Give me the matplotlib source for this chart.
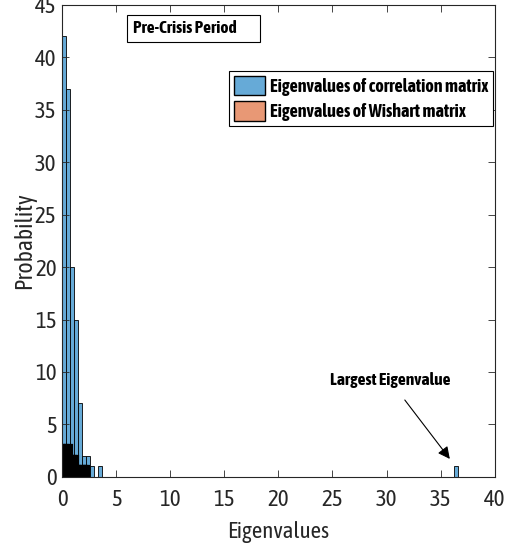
import numpy as np
import matplotlib
matplotlib.use("Agg")
import matplotlib.pyplot as plt
from matplotlib import font_manager
from matplotlib.patches import Rectangle

# -------------------------------
# Data
# -------------------------------
corr_bin_width = 0.37
# counts of the first correlation-matrix bins, starting at 0
corr_counts = [42, 37, 20, 15, 7, 2, 2, 1, 0, 1]
# the isolated largest eigenvalue bin (bin index, count)
largest_bin = 98
largest_count = 1

wishart_bin_width = 0.1
wishart_counts = [2, 3, 3, 3, 2, 3, 3, 2, 3, 2, 2, 2, 2, 1, 2,
                  1, 1, 1, 1, 1, 1, 1, 1, 0, 1]

x_ticks = [0, 5, 10, 15, 20, 25, 30, 35, 40]
y_ticks = [0, 5, 10, 15, 20, 25, 30, 35, 40, 45]

BLUE = (0 * 0.6 + 0.4, 0.447 * 0.6 + 0.4, 0.741 * 0.6 + 0.4)
ORANGE = (0.85 * 0.6 + 0.4, 0.325 * 0.6 + 0.4, 0.098 * 0.6 + 0.4)

# a narrow sans face looks closest to the original; prefer one with a bold cut
fonts = font_manager.fontManager.ttflist
is_narrow = lambda n: "Narrow" in n or "Condensed" in n
narrow = sorted({f.name for f in fonts if is_narrow(f.name)})
narrow_bold = sorted({f.name for f in fonts if is_narrow(f.name)
                      and (f.weight in ("bold", "heavy", "black")
                           or (isinstance(f.weight, int) and f.weight >= 600))})
family = (narrow_bold or narrow)[:1]
plt.rcParams["font.family"] = family + ["Liberation Sans", "DejaVu Sans"]

fig = plt.figure(figsize=(5.08, 5.45), dpi=100)
ax = fig.add_axes([0.122, 0.125, 0.852, 0.866])

# correlation matrix histogram
corr_left = np.arange(len(corr_counts)) * corr_bin_width
ax.bar(corr_left, corr_counts, width=corr_bin_width, align="edge",
       color=BLUE, edgecolor="black", linewidth=0.6,
       label="Eigenvalues of correlation matrix")
ax.bar([largest_bin * corr_bin_width], [largest_count], width=corr_bin_width,
       align="edge", color=BLUE, edgecolor="black", linewidth=0.6)

# Wishart histogram (narrow bins, edges dominate)
w_left = np.arange(len(wishart_counts)) * wishart_bin_width
ax.bar(w_left, wishart_counts, width=wishart_bin_width, align="edge",
       color=ORANGE, edgecolor="black", linewidth=1.6,
       label="Eigenvalues of Wishart matrix")

ax.set_xlim(0, 40)
ax.set_ylim(0, 45)
ax.set_xticks(x_ticks)
ax.set_yticks(y_ticks)
ax.tick_params(direction="in", top=True, right=True, labelsize=16.5,
               length=5, width=0.6, colors="#262626", pad=4)
ax.tick_params(axis="x", pad=9)
for s in ax.spines.values():
    s.set_linewidth(0.8)
    s.set_color("#262626")

ax.set_xlabel("Eigenvalues", fontsize=16.5, color="#262626", labelpad=7)
ax.set_ylabel("Probability", fontsize=17, color="#262626", labelpad=-1)

leg = ax.legend(loc="upper right", bbox_to_anchor=(0.997, 0.86),
                prop={"weight": "bold", "size": 13}, fancybox=False,
                edgecolor="black", framealpha=1, handlelength=1.7,
                handleheight=1.25, handletextpad=0.25, borderpad=0.3,
                labelspacing=0.3, borderaxespad=0)
leg.get_frame().set_linewidth(0.8)
for h in leg.legend_handles:
    h.set_linewidth(1.0)

# text box in the top left, as a plain frame with the text inside
ax.add_patch(Rectangle((0.150, 0.922), 0.307, 0.057, transform=ax.transAxes,
                       facecolor="white", edgecolor="black", linewidth=0.8,
                       zorder=4))
ax.text(0.165, 0.951, "Pre-Crisis Period", transform=ax.transAxes,
        fontsize=12.5, fontweight="bold", va="center", ha="left", zorder=5)

ax.annotate("Largest Eigenvalue", xy=(36.0, 1.5), xytext=(30.3, 9.2),
            fontsize=12.5, fontweight="bold", ha="center", va="center",
            arrowprops=dict(arrowstyle="-|>", color="black", lw=0.8,
                            mutation_scale=18, shrinkA=8))

fig.savefig("out.png", dpi=100)
